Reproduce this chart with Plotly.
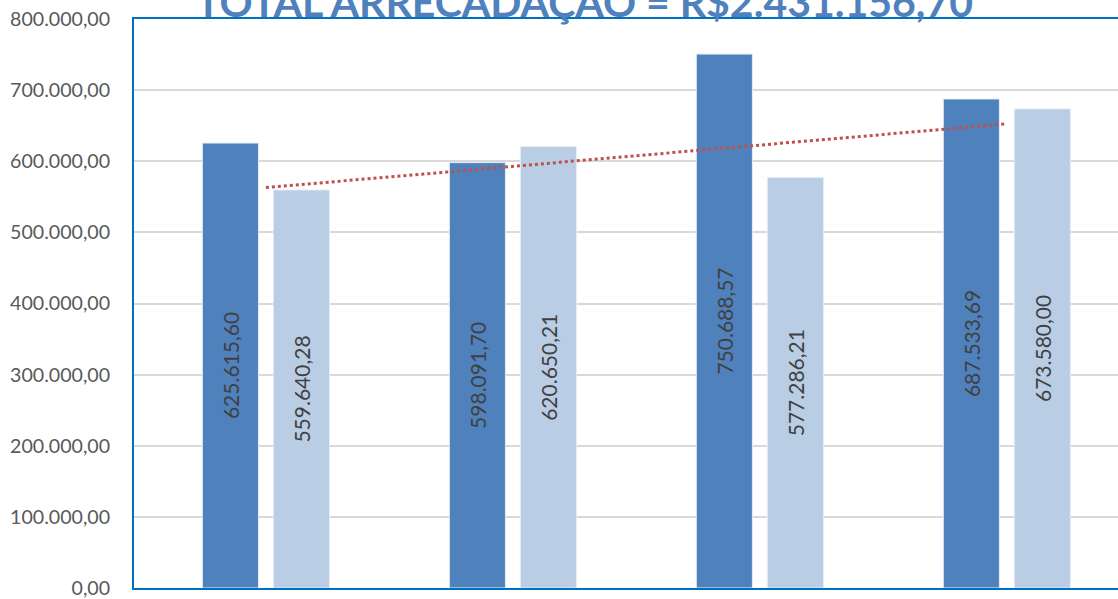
import numpy as np
import plotly.graph_objects as go

categories = ["1", "2", "3", "4"]
serie_a = [625615.60, 598091.70, 750688.57, 687533.69]
serie_b = [559640.28, 620650.21, 577286.21, 673580.00]
tick_vals = [0, 100000, 200000, 300000, 400000, 500000, 600000, 700000, 800000]
tick_text = ["0,00", "100.000,00", "200.000,00", "300.000,00", "400.000,00",
             "500.000,00", "600.000,00", "700.000,00", "800.000,00"]
title_text = "TOTAL ARRECADAÇÃO = R$2.431.156,70"

FONT = "Lato, Liberation Sans, Arial, sans-serif"


def fmt(v):
    s = f"{v:,.2f}"
    return s.replace(",", "X").replace(".", ",").replace("X", ".")


xpos = list(range(len(categories)))
label_font = dict(family=FONT, size=21, color="#404040")

fig = go.Figure()
fig.add_trace(go.Bar(
    x=xpos, y=serie_a, marker=dict(color="#4F81BD", line=dict(color="#E6ECF5", width=1)),
    text=[fmt(v) for v in serie_a], textposition="inside", textangle=-90,
    insidetextanchor="middle", constraintext="none", textfont=label_font,
    showlegend=False, hoverinfo="skip"))
fig.add_trace(go.Bar(
    x=xpos, y=serie_b, marker=dict(color="#B9CDE5", line=dict(color="#E6ECF5", width=1)),
    text=[fmt(v) for v in serie_b], textposition="inside", textangle=-90,
    insidetextanchor="middle", constraintext="none", textfont=label_font,
    showlegend=False, hoverinfo="skip"))

# linear trendline on the second series
coef = np.polyfit(np.arange(1, len(serie_b) + 1), serie_b, 1)
trend = np.polyval(coef, np.arange(1, len(serie_b) + 1))
fig.add_trace(go.Scatter(
    x=xpos, y=trend, mode="lines",
    line=dict(color="#C0504D", width=3, dash="dot"),
    showlegend=False, hoverinfo="skip"))

fig.update_layout(
    width=1118, height=599,
    margin=dict(l=134, r=0, t=19, b=8),
    paper_bgcolor="white", plot_bgcolor="white",
    barmode="group", bargap=0.425, bargroupgap=0.21,
    font=dict(family=FONT),
    annotations=[dict(
        text="<b>" + title_text + "</b>", xref="paper", yref="paper",
        x=(584 - 134) / 984, y=(591 - 28) / 572, xanchor="center", yanchor="bottom",
        showarrow=False,
        font=dict(family=FONT, size=41, color="#4F81BD"))],
)
fig.update_xaxes(
    range=[-0.534, 3.450], showticklabels=False, showgrid=False, ticks="",
    showline=True, linecolor="#0070C0", linewidth=2, mirror=True, zeroline=False)
fig.update_yaxes(
    range=[0, 800000], tickvals=tick_vals, ticktext=tick_text,
    showgrid=True, gridcolor="#D9D9D9", gridwidth=1.5,
    showline=True, linecolor="#0070C0", linewidth=2, zeroline=False,
    ticks="", ticklabelstandoff=18, ticklabeloverflow="allow",
    tickfont=dict(family=FONT, size=19.6, color="#595959"))

fig.write_html("out.html", config={"displayModeBar": False},
               post_script="document.body.style.margin='0';")
